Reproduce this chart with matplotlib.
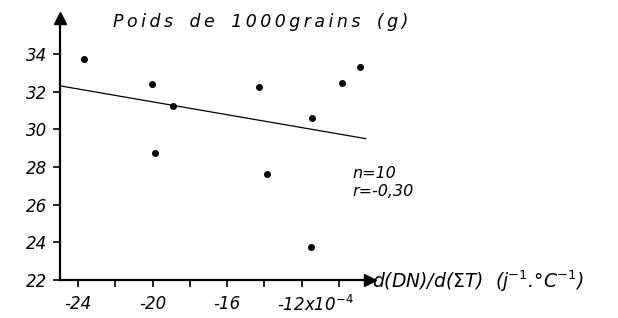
import matplotlib.pyplot as plt
from matplotlib.transforms import ScaledTranslation

# data
dn_rate = [-23.7, -20.05, -18.9, -19.85, -14.3, -11.45, -9.85, -8.9, -13.85, -11.5]
grain_weight = [33.75, 32.4, 31.25, 28.75, 32.25, 30.6, 32.45, 33.3, 27.6, 23.75]
line_x = [-24.97, -8.57]
line_y = [32.3, 29.5]
yticks = [22, 24, 26, 28, 30, 32, 34]
xticks = [-24, -22, -20, -18, -16, -14, -12, -10]
xticklabels = ['-24', '', '-20', '', '-16', '', '-12x10$^{-4}$', '']

plt.rcParams['font.family'] = 'DejaVu Sans'
fig = plt.figure(figsize=(6.18, 3.18), dpi=100)
ax = fig.add_axes([60/618, 38/318, 310/618, 262/318])

ax.plot(line_x, line_y, color='black', lw=0.9)
ax.plot(dn_rate, grain_weight, 'o', color='black', ms=4)

ax.set_xlim(-24.97, -8.34)
ax.set_ylim(22, 35.9)
ax.spines['top'].set_visible(False)
ax.spines['right'].set_visible(False)
ax.spines['left'].set_linewidth(1.6)
ax.spines['bottom'].set_linewidth(1.6)
ax.plot(1, 0, '>k', ms=8, transform=ax.transAxes, clip_on=False)
ax.plot(0, 1, '^k', ms=8, transform=ax.transAxes, clip_on=False)

ax.set_yticks(yticks)
ax.set_yticklabels([str(v) for v in yticks], fontsize=12, style='italic')
ax.set_xticks(xticks)
ax.set_xticklabels(xticklabels, fontsize=12, style='italic')
ax.tick_params(direction='out', length=5, width=1.2)
ax.tick_params(axis='x', pad=6)
ax.tick_params(axis='y', pad=4)

# the -12 label carries the exponent and sits left-aligned like the original
lab = ax.get_xticklabels()[6]
lab.set_ha('left')
lab.set_transform(lab.get_transform() + ScaledTranslation(-0.25, 0, fig.dpi_scale_trans))

title = '\u2009'.join('Poids de 1000grains (g)').replace('\u2009 \u2009', '   ')
fig.text(113/618, 1 - 22/318, title, fontsize=12.5,
         style='italic', ha='left', va='center')
fig.text(372/618, 1 - 281/318, r'd(DN)/d($\Sigma$T)  (j$^{-1}$.°C$^{-1}$)',
         fontsize=13.5, style='italic', ha='left', va='center')
fig.text(352/618, 1 - 173/318, 'n=10', fontsize=11.5, style='italic', ha='left', va='center')
fig.text(352/618, 1 - 191/318, 'r=-0,30', fontsize=11.5, style='italic', ha='left', va='center')

fig.savefig('out.png', dpi=100)
